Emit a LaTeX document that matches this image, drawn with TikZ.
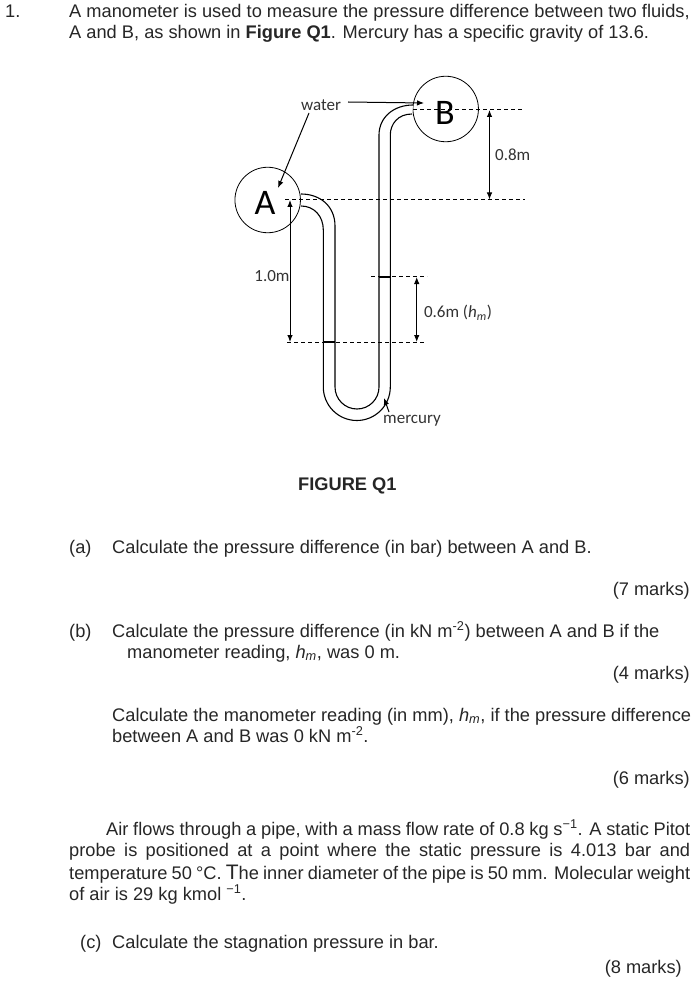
\documentclass[tikz,border=0pt]{standalone}
\usepackage{fontspec}
\setmainfont{Liberation Sans}
\newfontfamily\labelfont{Carlito}
\usetikzlibrary{arrows.meta,positioning}

\begin{document}
\begin{tikzpicture}[x=1pt,y=-1pt,>={Latex[length=7pt,width=5.5pt]}]
	\tikzstyle{txt}=[inner sep=0pt,anchor=base west,font=\fontsize{18.25}{20}\selectfont,text=black!85]
	\tikzstyle{txtr}=[txt,anchor=base east]
	\tikzstyle{lbl}=[inner sep=0pt,font=\labelfont\fontsize{17}{18}\selectfont,text=black!80]
	\tikzstyle{vessel}=[draw,circle,inner sep=0pt,minimum size=65.5pt,line width=0.8pt]
	\tikzstyle{vname}=[inner sep=0pt,font=\labelfont\fontsize{36}{36}\selectfont]
	\tikzstyle{tube}=[line width=1.1pt]
	\tikzstyle{level}=[dash pattern=on 4pt off 3pt,line width=1pt]
	\tikzstyle{dim}=[<->,line width=1pt]
	\useasboundingbox (0,0) rectangle (693,981);

	%% Question text
	\node[txt] (num) at (5,18) {1.};
	\node[txt] (intro1) at (69,18) {A manometer is used to measure the pressure difference between two fluids,};
	\node[txt] (intro2) at (69,39) {A and B, as shown in \textbf{Figure Q1}. Mercury has a specific gravity of 13.6.};
	\node[txt] (figname) at (298,490) {\textbf{FIGURE Q1}};
	\node[txt] (parta) at (69,553) {(a)};
	\node[txt] (parta1) at (112,553) {Calculate the pressure difference (in bar) between A and B.};
	\node[txtr] (marka) at (690,595) {(7 marks)};
	\node[txt] (partb) at (69,637) {(b)};
	\node[txt] (partb1) at (112,637) {Calculate the pressure difference (in kN m\textsuperscript{-2}) between A and B if the};
	\node[txt] (partb2) at (127,658) {manometer reading, \textit{h\textsubscript{m}}, was 0 m.};
	\node[txtr] (markb) at (690,679) {(4 marks)};
	\node[txt] (calc1) at (112,721) {Calculate the manometer reading (in mm), \textit{h\textsubscript{m}}, if the pressure difference};
	\node[txt] (calc2) at (112,742) {between A and B was 0 kN m\textsuperscript{-2}.};
	\node[txtr] (markc) at (690,784) {(6 marks)};
	\node[txt] (air1) at (106,835) {\makebox[584pt][s]{Air flows through a pipe, with a mass flow rate of 0.8 kg s\textsuperscript{−1}. A static Pitot}};
	\node[txt] (air2) at (69,856) {\makebox[621pt][s]{probe is positioned at a point where the static pressure is 4.013 bar and}};
	\node[txt] (air3) at (69,879) {\makebox[621pt][s]{temperature 50 °C. {\fontsize{21}{21}\selectfont T}he inner diameter of the pipe is 50 mm. Molecular weight}};
	\node[txt] (air4) at (69,900) {of air is 29 kg kmol \textsuperscript{−1}.};
	\node[txt] (partc) at (80,948) {(c)};
	\node[txt] (partc1) at (112,948) {Calculate the stagnation pressure in bar.};
	\node[txtr] (markd) at (682,973) {(8 marks)};

	%% Vessels
	\node[vessel] (A) at (267.7,200) {};
	\node[vessel] (B) at (445.7,109) {};
	\node[vname] (Aname) at (265,203) {A};
	\node[vname] (Bname) at (445,113) {B};

	%% Manometer tube
	\fill[white] (301,194) .. controls (320,194) and (335,206) .. (335,226) -- (335,387)
		arc (180:0:22) -- (379,135) .. controls (379,117) and (394,105) .. (413,105)
		-- (412,114) .. controls (398,114) and (390.3,124) .. (390.3,135) -- (390.3,387)
		arc (0:180:33.5) -- (323.3,230) .. controls (323.3,216) and (314,206) .. (301,206) -- cycle;
	\draw[tube] (301,194) .. controls (320,194) and (335,206) .. (335,226) -- (335,387)
		arc (180:0:22) -- (379,135) .. controls (379,117) and (394,105) .. (413,105);
	\draw[tube] (301,206) .. controls (314,206) and (323.3,216) .. (323.3,230) -- (323.3,387)
		arc (180:0:33.5) -- (390.3,135) .. controls (390.3,124) and (398,114) .. (412,114);

	%% Levels
	\coordinate (la0) at (285,199.5);
	\coordinate (la1) at (525,199.5);
	\coordinate (lb0) at (413,109.5);
	\coordinate (lb1) at (522,109.5);
	\coordinate (lc0) at (371,277);
	\coordinate (lc1) at (427,277);
	\coordinate (ld0) at (287,342);
	\coordinate (ld1) at (426,342);
	\draw[level] (la0) -- (la1);
	\draw[level] (lb0) -- (lb1);
	\draw[level] (lc0) -- (lc1);
	\draw[level] (ld0) -- (ld1);
	\coordinate (hg0) at (323.3,342);
	\coordinate (hg1) at (335,342);
	\coordinate (hg2) at (379,277);
	\coordinate (hg3) at (390.3,277);
	\draw[line width=2.4pt] (hg0) -- (hg1);
	\draw[line width=2.4pt] (hg2) -- (hg3);

	%% Dimensions
	\coordinate (d1t) at (489.5,110);
	\coordinate (d1b) at (489.5,199.5);
	\coordinate (d2t) at (290,200);
	\coordinate (d2b) at (290,342);
	\coordinate (d3t) at (416.7,277);
	\coordinate (d3b) at (416.7,342);
	\draw[dim] (d1t) -- (d1b);
	\draw[dim] (d2t) -- (d2b);
	\draw[dim] (d3t) -- (d3b);
	\node[lbl] (h08) at (512.7,155) {0.8m};
	\node[lbl] (h10) at (272,276) {1.0m};
	\node[lbl] (h06) at (458,313) {0.6m (\textit{h\textsubscript{m}})};

	%% Fluids
	\node[lbl] (water) at (321,105) {water};
	\node[lbl] (mercury) at (412,421) {mercury};
	\coordinate (wa) at (278,188);
	\coordinate (wb) at (424,103);
	\coordinate (hgp) at (384,398);
	\coordinate (wstart) at (348,102);
	\coordinate (astart) at (309,113);
	\coordinate (mstart) at (389,412);
	\path[->,line width=1pt]
		(wstart) edge node {} (wb)
		(astart) edge node {} (wa)
		(mstart) edge node {} (hgp);
\end{tikzpicture}
\end{document}
